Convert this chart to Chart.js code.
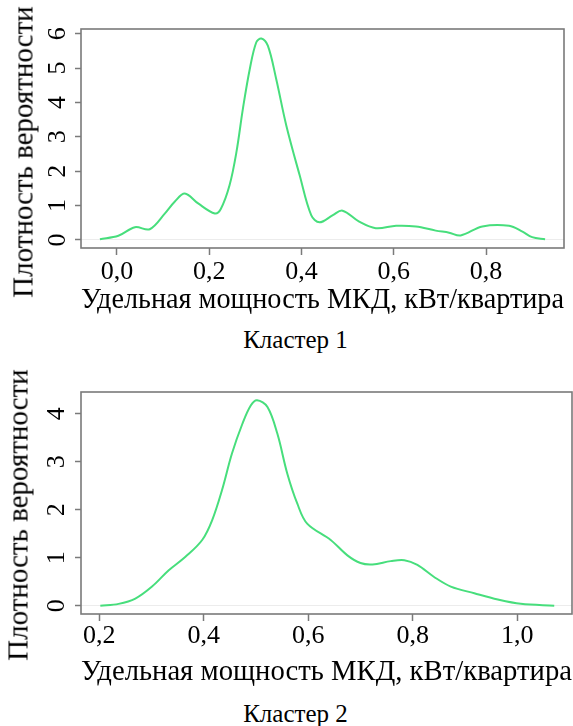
<!DOCTYPE html>
<html>
<head>
<meta charset="utf-8">
<script src="https://cdn.jsdelivr.net/npm/chart.js@4"></script>
<style>
  body { margin: 0; background: #fff; }
  #wrap { position: relative; width: 573px; height: 726px; overflow: hidden; }
  canvas { position: absolute; left: 0; }
  .caption { position: absolute; left: 0; width: 591px; text-align: center;
    font-family: 'Liberation Serif', serif; font-size: 25px; line-height: 25px; color: #000; }
  .ytitle { position: absolute; white-space: nowrap; font-family: 'Liberation Serif', serif;
    font-size: 29px; line-height: 29px; color: #000; transform: translate(-50%, -50%) rotate(-90deg); }
</style>
</head>
<body>
<div id="wrap">
  <canvas id="chart1" width="573" height="322" style="top:0"></canvas>
  <div class="ytitle" style="left:23px; top:152px">Плотность вероятности</div>
  <div class="caption" style="top:327px">Кластер 1</div>
  <canvas id="chart2" width="573" height="330" style="top:360px"></canvas>
  <div class="ytitle" style="left:18px; top:515px">Плотность вероятности</div>
  <div class="caption" style="top:701px">Кластер 2</div>
</div>
<script>
// Кластер 1: оценка плотности
const x1 = [-0.037, 0.003, 0.039, 0.071, 0.104, 0.125, 0.147, 0.176, 0.212, 0.225, 0.244, 0.259, 0.273, 0.288,
  0.302, 0.313, 0.327, 0.345, 0.367, 0.396, 0.421, 0.439, 0.468, 0.489, 0.525, 0.561, 0.605, 0.648,
  0.691, 0.72, 0.745, 0.792, 0.85, 0.879, 0.9, 0.928];
const y1 = [0.02, 0.12, 0.37, 0.31, 0.77, 1.11, 1.35, 1.06, 0.77, 0.9, 1.59, 2.56, 3.82, 4.98,
  5.75, 5.86, 5.65, 4.69, 3.33, 1.88, 0.72, 0.51, 0.72, 0.85, 0.53, 0.34, 0.41, 0.39,
  0.27, 0.21, 0.13, 0.39, 0.41, 0.24, 0.08, 0.02];
const xTicks1 = [0, 0.2, 0.4, 0.6, 0.8];
const xTickLabels1 = ['0,0', '0,2', '0,4', '0,6', '0,8'];
const yTicks1 = [0, 1, 2, 3, 4, 5, 6];
const yTickLabels1 = ['0', '1', '2', '3', '4', '5', '6'];

// Кластер 2
const x2 = [0.202, 0.237, 0.269, 0.301, 0.333, 0.365, 0.397, 0.416, 0.435, 0.454, 0.474, 0.490, 0.502,
  0.522, 0.541, 0.56, 0.579, 0.598, 0.643, 0.675, 0.700, 0.723, 0.758, 0.784, 0.809, 0.841, 0.873,
  0.918, 0.963, 1.007, 1.071];
const y2 = [0.0, 0.04, 0.15, 0.40, 0.74, 1.02, 1.37, 1.78, 2.41, 3.17, 3.79, 4.17, 4.28,
  4.14, 3.58, 2.75, 2.13, 1.71, 1.37, 1.05, 0.89, 0.86, 0.93, 0.95, 0.85, 0.60, 0.40,
  0.26, 0.13, 0.04, 0.0];
const xTicks2 = [0.2, 0.4, 0.6, 0.8, 1.0];
const xTickLabels2 = ['0,2', '0,4', '0,6', '0,8', '1,0'];
const yTicks2 = [0, 1, 2, 3, 4];
const yTickLabels2 = ['0', '1', '2', '3', '4'];

const xTitle = 'Удельная мощность МКД, кВт/квартира';

Chart.defaults.font.family = "'Liberation Serif', serif";
Chart.defaults.color = '#000';

// рамка вокруг области графика
const frame = {
  id: 'frame',
  afterDatasetsDraw(chart) {
    const a = chart.chartArea, ctx = chart.ctx;
    ctx.save();
    ctx.strokeStyle = '#7a7a7a';
    ctx.lineWidth = 1.6;
    ctx.strokeRect(a.left, a.top, a.right - a.left, a.bottom - a.top);
    ctx.restore();
  }
};

function densityChart(id, xs, ys, o) {
  const pts = xs.map((x, i) => ({ x: x, y: ys[i] }));
  return new Chart(document.getElementById(id), {
    type: 'line',
    data: { datasets: [{ data: pts, borderColor: '#47de7c', borderWidth: 2,
      pointRadius: 0, tension: 0.35, fill: false }] },
    options: {
      responsive: false, animation: false, devicePixelRatio: 1,
      layout: { padding: { top: o.top, right: o.right, left: 0, bottom: 0 } },
      plugins: { legend: { display: false }, tooltip: { enabled: false } },
      scales: {
        x: {
          type: 'linear', min: o.xMin, max: o.xMax,
          afterBuildTicks: s => { s.ticks = o.xTicks.map(v => ({ value: v })); },
          afterFit: s => { s.height = o.xHeight; },
          border: { display: false },
          grid: { drawOnChartArea: false, tickLength: 7, tickColor: '#7a7a7a', tickWidth: 1.5 },
          ticks: { autoSkip: false, maxRotation: 0, padding: o.xPad, font: { size: 26 },
            callback: (v, i) => o.xLabels[i] },
          title: { display: true, text: xTitle, font: { size: 29 }, padding: { top: 0, bottom: o.xTitlePad } }
        },
        y: {
          min: o.yMin, max: o.yMax,
          afterBuildTicks: s => { s.ticks = o.yTicks.map(v => ({ value: v })); },
          afterFit: s => { s.width = 81; },
          border: { display: false },
          grid: { tickLength: 6, tickColor: '#7a7a7a', tickWidth: 1.5,
            color: c => c.tick && c.tick.value === 0 ? '#ececec' : 'rgba(0,0,0,0)' },
          ticks: { autoSkip: false, minRotation: 90, maxRotation: 90, crossAlign: 'center',
            padding: o.yPad, font: { size: 26 }, callback: (v, i) => o.yLabels[i] }
        }
      }
    },
    plugins: [frame]
  });
}

densityChart('chart1', x1, y1, {
  top: 29, right: 9, xMin: -0.078, xMax: 0.969, yMin: -0.236, yMax: 6.136,
  xTicks: xTicks1, xLabels: xTickLabels1, yTicks: yTicks1, yLabels: yTickLabels1,
  xHeight: 74, xPad: 2, xTitlePad: 4, yPad: 10
});

densityChart('chart2', x2, y2, {
  top: 32, right: 1, xMin: 0.165, xMax: 1.105, yMin: -0.171, yMax: 4.451,
  xTicks: xTicks2, xLabels: xTickLabels2, yTicks: yTicks2, yLabels: yTickLabels2,
  xHeight: 76, xPad: 0, xTitlePad: 0, yPad: 11
});
</script>
</body>
</html>
